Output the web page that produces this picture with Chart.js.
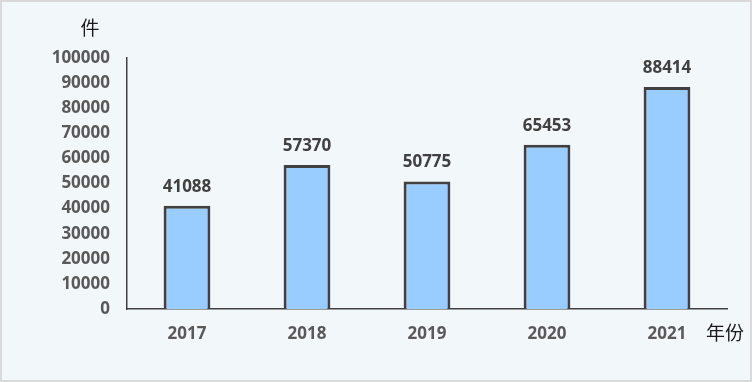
<!DOCTYPE html>
<html>
<head>
<meta charset="utf-8">
<script src="https://cdn.jsdelivr.net/npm/chart.js@4"></script>
<style>
  html, body { margin: 0; padding: 0; background: #ffffff; }
  #wrap { width: 752px; height: 382px; }
</style>
</head>
<body>
<div id="wrap"><canvas id="c" width="752" height="382"></canvas></div>
<script>
const years = ["2017", "2018", "2019", "2020", "2021"];
const counts = [41088, 57370, 50775, 65453, 88414];
const yMax = 100000;
const yStep = 10000;

const fontFamily = "'Open Sans', 'DejaVu Sans', sans-serif";

// background, frame, data labels and unit texts
const decor = {
  id: "decor",
  beforeDraw(chart) {
    const ctx = chart.ctx;
    ctx.save();
    ctx.fillStyle = "#f2f7fa";
    ctx.fillRect(0, 0, chart.width, chart.height);
    ctx.strokeStyle = "#d9d9d9";
    ctx.lineWidth = 2;
    ctx.strokeRect(1, 1, chart.width - 2, chart.height - 2);
    ctx.restore();
  },
  afterDatasetsDraw(chart) {
    const ctx = chart.ctx;
    const meta = chart.getDatasetMeta(0);
    ctx.save();
    ctx.fillStyle = "#404040";
    ctx.font = "bold 17px " + fontFamily;
    ctx.textAlign = "center";
    ctx.textBaseline = "middle";
    meta.data.forEach((bar, i) => {
      ctx.fillText(String(counts[i]), bar.x, bar.y - 19);
    });
    ctx.fillStyle = "#1a1a1a";
    ctx.font = "19px 'Noto Sans CJK SC', sans-serif";
    ctx.fillText("件", 90, 28);
    ctx.textAlign = "left";
    ctx.fillText("年份", 706, 333);
    ctx.restore();
  }
};

new Chart(document.getElementById("c"), {
  type: "bar",
  data: {
    labels: years,
    datasets: [{
      data: counts,
      backgroundColor: "#99ccff",
      borderColor: "#404040",
      borderWidth: 3,
      barPercentage: 0.39,
      categoryPercentage: 1.0
    }]
  },
  options: {
    responsive: false,
    animation: false,
    layout: {
      padding: { left: 0, right: 25, top: 58, bottom: 0 }
    },
    plugins: {
      legend: { display: false },
      tooltip: { enabled: false }
    },
    scales: {
      x: {
        afterFit(scale) { scale.height = 73; },
        grid: { display: false, drawTicks: false },
        border: { display: true, color: "#404040", width: 1.5 },
        ticks: { color: "#595959", font: { family: fontFamily, size: 17, weight: "bold" }, padding: 15 }
      },
      y: {
        min: 0,
        max: yMax,
        afterFit(scale) { scale.width = 127; },
        grid: { display: false, drawTicks: false },
        border: { display: true, color: "#404040", width: 1.5 },
        ticks: {
          stepSize: yStep,
          color: "#595959",
          font: { family: fontFamily, size: 17, weight: "bold" },
          padding: 17,
          callback: (v) => String(v)
        }
      }
    }
  },
  plugins: [decor]
});
</script>
</body>
</html>
